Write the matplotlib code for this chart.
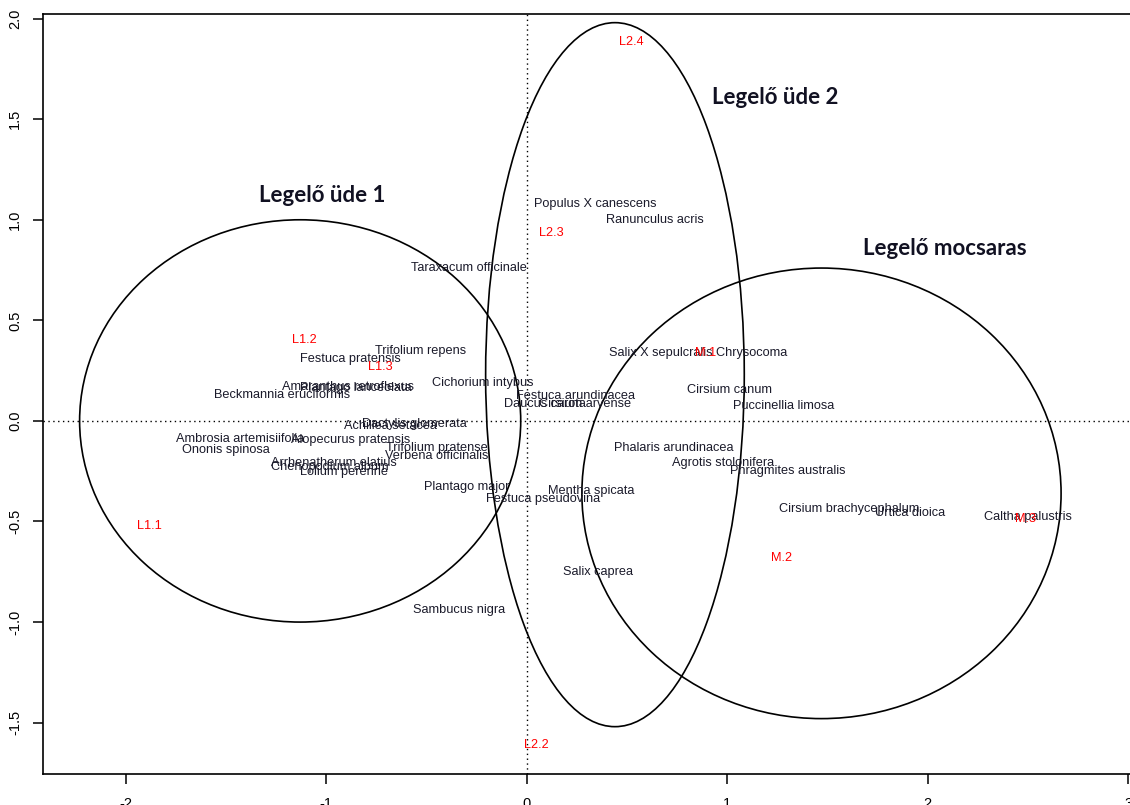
import matplotlib
matplotlib.use("Agg")
import matplotlib.pyplot as plt
from matplotlib.patches import Ellipse

# species scores
species = ["Populus X canescens", "Ranunculus acris", "Taraxacum officinale",
           "Trifolium repens", "Festuca pratensis", "Cichorium intybus",
           "Beckmannia eruciformis", "Amaranthus retroflexus", "Plantago lanceolata",
           "Dactylis glomerata", "Achillea setacea", "Ambrosia artemisiifolia",
           "Alopecurus pratensis", "Ononis spinosa", "Trifolium pratense",
           "Verbena officinalis", "Arrhenatherum elatius", "Chenopodium album",
           "Lolium perenne", "Plantago major", "Festuca pseudovina", "Mentha spicata",
           "Sambucus nigra", "Salix caprea", "Festuca arundinacea", "Daucus carota",
           "Cirsium arvense", "Phalaris arundinacea", "Agrotis stolonifera",
           "Phragmites australis", "Cirsium canum", "Puccinellia limosa",
           "Salix X sepulcralis Chrysocoma", "Cirsium brachycephalum",
           "Urtica dioica", "Caltha palustris"]
sp_x = [0.34, 0.64, -0.29, -0.53, -0.88, -0.22, -1.22, -0.89, -0.85,
        -0.56, -0.68, -1.43, -0.88, -1.50, -0.45, -0.45, -0.96, -0.98,
        -0.91, -0.30, 0.08, 0.32, -0.34, 0.355, 0.245, 0.09, 0.29, 0.735,
        0.98, 1.30, 1.01, 1.28, 0.855, 1.61, 1.91, 2.50]
sp_y = [1.08, 1.0, 0.76, 0.35, 0.31, 0.19, 0.13, 0.17, 0.165,
        -0.015, -0.025, -0.09, -0.095, -0.145, -0.135, -0.175, -0.21, -0.23,
        -0.255, -0.33, -0.39, -0.35, -0.94, -0.75, 0.125, 0.085, 0.085, -0.135,
        -0.21, -0.25, 0.155, 0.075, 0.34, -0.44, -0.46, -0.48]

# site scores
sites = ["L1.1", "L1.2", "L1.3", "L2.2", "L2.3", "L2.4", "M.1", "M.2", "M.3"]
site_x = [-1.88, -1.11, -0.73, 0.05, 0.125, 0.52, 0.89, 1.27, 2.49]
site_y = [-0.52, 0.40, 0.27, -1.61, 0.935, 1.885, 0.34, -0.68, -0.49]

# group ellipses
groups = ["Legelő üde 1", "Legelő üde 2", "Legelő mocsaras"]
ell_cx = [-1.13, 0.44, 1.47]
ell_cy = [0.0, 0.23, -0.36]
ell_w = [2.20, 1.29, 2.39]
ell_h = [2.00, 3.50, 2.24]
lab_x = [-1.02, 1.24, 2.085]
lab_y = [1.12, 1.61, 0.855]

plt.rcParams['font.family'] = ['Liberation Sans', 'DejaVu Sans']

fig = plt.figure(figsize=(11.3, 8.05), dpi=100)
ax = fig.add_axes([0.0378, 0.0381, 0.9784, 0.9445])
ax.set_xlim(-2.414, 3.1)
ax.set_ylim(-1.757, 2.023)

ax.axhline(0, color="black", lw=1, ls=(0, (1, 2.5)))
ax.axvline(0, color="black", lw=1, ls=(0, (1, 2.5)))

for i in range(len(groups)):
    e = Ellipse((ell_cx[i], ell_cy[i]), ell_w[i], ell_h[i], fill=False,
                edgecolor="black", lw=1.2)
    ax.add_patch(e)
    ax.text(lab_x[i], lab_y[i], groups[i], ha="center", va="center",
            fontsize=16, fontweight="bold", family=["Lato", "DejaVu Sans"],
            color="#111122")

for name, x, y in zip(species, sp_x, sp_y):
    ax.text(x, y, name, ha="center", va="center", fontsize=9.2, color="#1a1a2a")

for name, x, y in zip(sites, site_x, site_y):
    ax.text(x, y, name, ha="center", va="center", fontsize=9.2, color="red")

ax.set_xticks([-2, -1, 0, 1, 2, 3])
ax.set_yticks([-1.5, -1.0, -0.5, 0.0, 0.5, 1.0, 1.5, 2.0])
ax.set_yticklabels(["-1.5", "-1.0", "-0.5", "0.0", "0.5", "1.0", "1.5", "2.0"],
                   rotation=90, va="center")
ax.set_xticklabels(["-2", "-1", "0", "1", "2", "3"])
ax.tick_params(axis="both", length=7, width=1.1, labelsize=10.5, colors="black")
ax.tick_params(axis="y", pad=8)
ax.tick_params(axis="x", pad=9)
for s in ax.spines.values():
    s.set_linewidth(1.2)

fig.savefig("out.png", dpi=100)
